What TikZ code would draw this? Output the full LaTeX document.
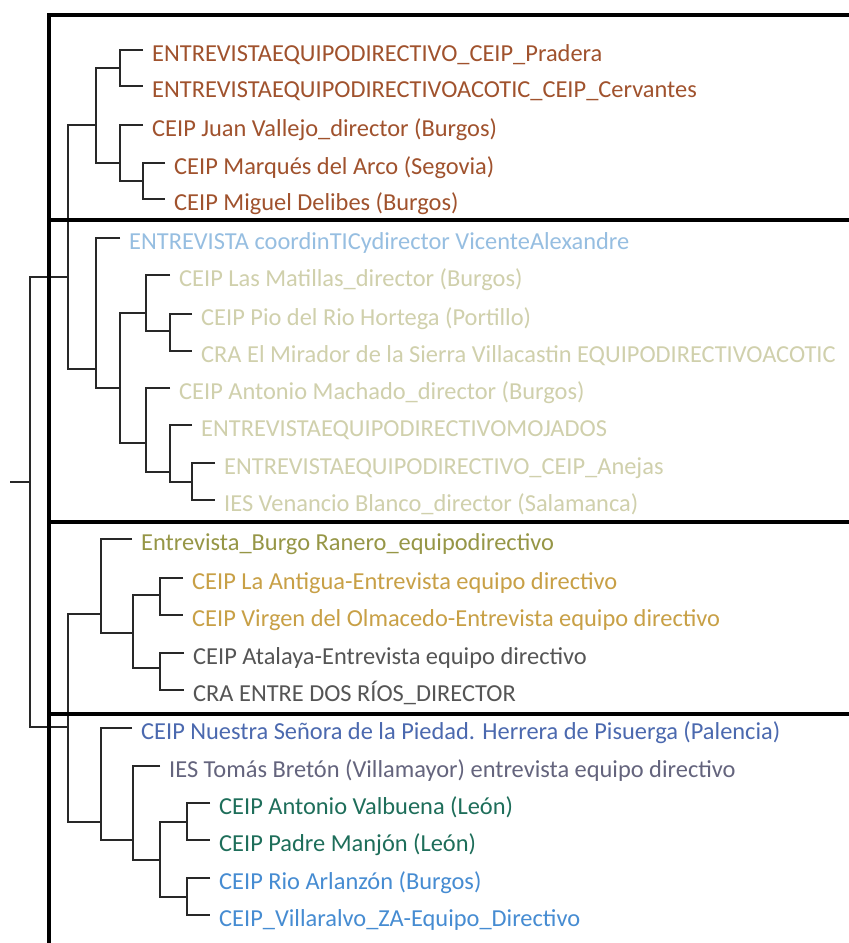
\documentclass[tikz,border=0pt]{standalone}
\usepackage{fontspec}
\setmainfont{Carlito}
\definecolor{cbrown}{RGB}{160,82,45}
\definecolor{clblue}{RGB}{150,190,225}
\definecolor{ckhaki}{RGB}{208,208,172}
\definecolor{colive}{RGB}{150,150,70}
\definecolor{cgold}{RGB}{200,160,70}
\definecolor{cgray}{RGB}{85,85,85}
\definecolor{cblue}{RGB}{75,105,175}
\definecolor{cpurp}{RGB}{100,100,125}
\definecolor{cteal}{RGB}{30,110,90}
\definecolor{csky}{RGB}{70,140,210}
\definecolor{cline}{RGB}{40,40,40}
\begin{document}
\begin{tikzpicture}[x=1pt,y=-1pt,
  leaf/.style={anchor=west,inner xsep=9pt,inner ysep=0pt,text height=22pt,text depth=0pt,
    font=\fontsize{24.4}{29}\selectfont},
  tree/.style={draw=cline,line width=1.5pt},
  frame/.style={draw=black,line width=4.8pt}]
\useasboundingbox (0,0) rectangle (849,943);
\fill[white] (0,0) rectangle (849,943);
% ---- leaves
\node[leaf,text=cbrown] (l1) at (143,50) {ENTREVISTAEQUIPODIRECTIVO\_CEIP\_Pradera};
\node[leaf,text=cbrown] (l2) at (143,86) {ENTREVISTAEQUIPODIRECTIVOACOTIC\_CEIP\_Cervantes};
\node[leaf,text=cbrown] (l3) at (143,125) {CEIP Juan Vallejo\_director (Burgos)};
\node[leaf,text=cbrown] (l4) at (165,163) {CEIP Marqués del Arco (Segovia)};
\node[leaf,text=cbrown] (l5) at (165,199) {CEIP Miguel Delibes (Burgos)};
\node[leaf,text=clblue] (l6) at (120,238) {ENTREVISTA coordinTICydirector VicenteAlexandre};
\node[leaf,text=ckhaki] (l7) at (170,275) {CEIP Las Matillas\_director (Burgos)};
\node[leaf,text=ckhaki] (l8) at (192,314) {CEIP Pio del Rio Hortega (Portillo)};
\node[leaf,text=ckhaki] (l9) at (192,351) {CRA El Mirador de la Sierra Villacastin EQUIPODIRECTIVOACOTIC};
\node[leaf,text=ckhaki] (l10) at (170,388) {CEIP Antonio Machado\_director (Burgos)};
\node[leaf,text=ckhaki] (l11) at (192,425) {ENTREVISTAEQUIPODIRECTIVOMOJADOS};
\node[leaf,text=ckhaki] (l12) at (215,463) {ENTREVISTAEQUIPODIRECTIVO\_CEIP\_Anejas};
\node[leaf,text=ckhaki] (l13) at (215,500) {IES Venancio Blanco\_director (Salamanca)};
\node[leaf,text=colive] (l14) at (132,539) {Entrevista\_Burgo Ranero\_equipodirectivo};
\node[leaf,text=cgold] (l15) at (183,578) {CEIP La Antigua-Entrevista equipo directivo};
\node[leaf,text=cgold] (l16) at (183,615) {CEIP Virgen del Olmacedo-Entrevista equipo directivo};
\node[leaf,text=cgray] (l17) at (184,653) {CEIP Atalaya-Entrevista equipo directivo};
\node[leaf,text=cgray] (l18) at (184,690) {CRA ENTRE DOS RÍOS\_DIRECTOR};
\node[leaf,text=cblue] (l19) at (132,728) {CEIP Nuestra Señora de la Piedad. Herrera de Pisuerga (Palencia)};
\node[leaf,text=cpurp] (l20) at (160,766) {IES Tomás Bretón (Villamayor) entrevista equipo directivo};
\node[leaf,text=cteal] (l21) at (210,803) {CEIP Antonio Valbuena (León)};
\node[leaf,text=cteal] (l22) at (210,840) {CEIP Padre Manjón (León)};
\node[leaf,text=csky] (l23) at (210,878) {CEIP Rio Arlanzón (Burgos)};
\node[leaf,text=csky] (l24) at (210,915) {CEIP\_Villaralvo\_ZA-Equipo\_Directivo};
% ---- internal nodes
\coordinate (rs) at (10,482);
\coordinate (R) at (30,482);
\coordinate (N12) at (68,277);
\coordinate (G1) at (96,125);
\coordinate (A) at (120,68);
\coordinate (B) at (120,163);
\coordinate (C) at (143,181);
\coordinate (G2) at (96,369);
\coordinate (D) at (120,388);
\coordinate (E) at (146,313);
\coordinate (E2) at (170,331);
\coordinate (F) at (146,443);
\coordinate (F2) at (170,472);
\coordinate (F3) at (192,482);
\coordinate (N34) at (68,727);
\coordinate (G3) at (101,614);
\coordinate (H) at (133,633);
\coordinate (H1) at (160,595);
\coordinate (H2) at (160,668);
\coordinate (G4) at (101,822);
\coordinate (J) at (133,840);
\coordinate (K) at (160,860);
\coordinate (K1) at (187,822);
\coordinate (K2) at (187,897);
% ---- connectors
\draw[tree] (rs) -- (R);
\draw[tree] (N12) -| (R) |- (N34);
\draw[tree] (G1) -| (N12) |- (G2);
\draw[tree] (A) -| (G1) |- (B);
\draw[tree] (l1.west) -| (A) |- (l2.west);
\draw[tree] (l3.west) -| (B) |- (C);
\draw[tree] (l4.west) -| (C) |- (l5.west);
\draw[tree] (l6.west) -| (G2) |- (D);
\draw[tree] (E) -| (D) |- (F);
\draw[tree] (l7.west) -| (E) |- (E2);
\draw[tree] (l8.west) -| (E2) |- (l9.west);
\draw[tree] (l10.west) -| (F) |- (F2);
\draw[tree] (l11.west) -| (F2) |- (F3);
\draw[tree] (l12.west) -| (F3) |- (l13.west);
\draw[tree] (G3) -| (N34) |- (G4);
\draw[tree] (l14.west) -| (G3) |- (H);
\draw[tree] (H1) -| (H) |- (H2);
\draw[tree] (l15.west) -| (H1) |- (l16.west);
\draw[tree] (l17.west) -| (H2) |- (l18.west);
\draw[tree] (l19.west) -| (G4) |- (J);
\draw[tree] (l20.west) -| (J) |- (K);
\draw[tree] (K1) -| (K) |- (K2);
\draw[tree] (l21.west) -| (K1) |- (l22.west);
\draw[tree] (l23.west) -| (K2) |- (l24.west);
% ---- frame
\coordinate (fb) at (49,943);
\coordinate (ft) at (49,15);
\coordinate (fr) at (849,15);
\draw[frame] (fb) -- (ft) -- (fr);
\coordinate (d1a) at (49,220); \coordinate (d1b) at (849,220);
\coordinate (d2a) at (49,522); \coordinate (d2b) at (849,522);
\coordinate (d3a) at (49,714); \coordinate (d3b) at (849,714);
\draw[frame] (d1a) -- (d1b);
\draw[frame] (d2a) -- (d2b);
\draw[frame] (d3a) -- (d3b);
\end{tikzpicture}
\end{document}
